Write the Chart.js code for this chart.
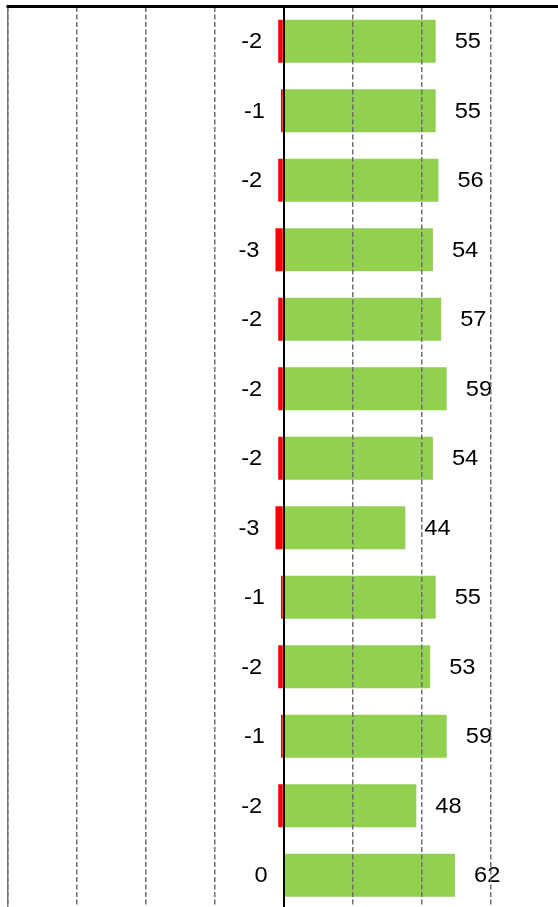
<!DOCTYPE html>
<html>
<head>
<meta charset="utf-8">
<script src="https://cdn.jsdelivr.net/npm/chart.js@4.4.0/dist/chart.umd.min.js"></script>
<style>
  html, body { margin: 0; padding: 0; background: #fff; overflow: hidden; }
  #wrap { position: absolute; left: 0; top: 0; width: 560px; height: 910px; }
</style>
</head>
<body>
<div id="wrap"><canvas id="c"></canvas></div>
<script>
const categories = ["1","2","3","4","5","6","7","8","9","10","11","12","13"];
const negativeValues = [-2, -1, -2, -3, -2, -2, -2, -3, -1, -2, -1, -2, 0];
const positiveValues = [55, 55, 56, 54, 57, 59, 54, 44, 55, 53, 59, 48, 62];
const xTickMin = -100;
const xTickMax = 100;
const xTickStep = 25;

const labelPlugin = {
  id: 'barLabels',
  afterDatasetsDraw(chart) {
    const ctx = chart.ctx;
    chart.data.datasets.forEach((ds, di) => {
      const meta = chart.getDatasetMeta(di);
      meta.data.forEach((bar, i) => {
        const v = ds.data[i];
        ctx.save();
        ctx.font = '21.5px "Liberation Sans", Arial, sans-serif';
        ctx.fillStyle = '#000';
        ctx.textBaseline = 'middle';
        if (di === 0) {
          ctx.translate(bar.x - 16, bar.y + 1);
          ctx.scale(1.1, 1);
          ctx.textAlign = 'right';
        } else {
          ctx.translate(bar.x + 19, bar.y + 1);
          ctx.scale(1.1, 1);
          ctx.textAlign = 'left';
        }
        ctx.fillText(String(v), 0, 0);
        ctx.restore();
      });
    });
  }
};

const topLinePlugin = {
  id: 'topLine',
  afterDraw(chart) {
    const a = chart.chartArea;
    const ctx = chart.ctx;
    ctx.save();
    ctx.strokeStyle = '#000';
    ctx.lineWidth = 3;
    ctx.beginPath();
    ctx.moveTo(a.left - 1, a.top);
    ctx.lineTo(a.right, a.top);
    ctx.stroke();
    ctx.restore();
  }
};

new Chart(document.getElementById('c'), {
  type: 'bar',
  data: {
    labels: categories,
    datasets: [
      { data: negativeValues, backgroundColor: '#FF0000', barPercentage: 0.62, categoryPercentage: 1 },
      { data: positiveValues, backgroundColor: '#92D050', barPercentage: 0.62, categoryPercentage: 1 }
    ]
  },
  options: {
    indexAxis: 'y',
    responsive: true,
    maintainAspectRatio: false,
    animation: false,
    layout: { padding: { left: 7.5, top: 6.5, right: 0, bottom: 0 } },
    plugins: { legend: { display: false }, tooltip: { enabled: false } },
    scales: {
      x: {
        position: 'top',
        stacked: true,
        min: xTickMin,
        max: xTickMax,
        ticks: { display: false, stepSize: xTickStep },
        grid: {
          drawTicks: false,
          color: ctx => (ctx.tick && ctx.tick.value === 0) ? '#000' : '#6e6e6e',
          lineWidth: ctx => (ctx.tick && ctx.tick.value === 0) ? 2 : 1.5,
          z: 1
        },
        border: {
          display: false,
          dash: ctx => (ctx.tick && ctx.tick.value === 0) ? [] : [5, 2.5]
        }
      },
      y: {
        stacked: true,
        ticks: { display: false },
        grid: { display: false, drawTicks: false },
        border: { display: true, color: '#808080', width: 1.5 }
      }
    }
  },
  plugins: [labelPlugin, topLinePlugin]
});
</script>
</body>
</html>
